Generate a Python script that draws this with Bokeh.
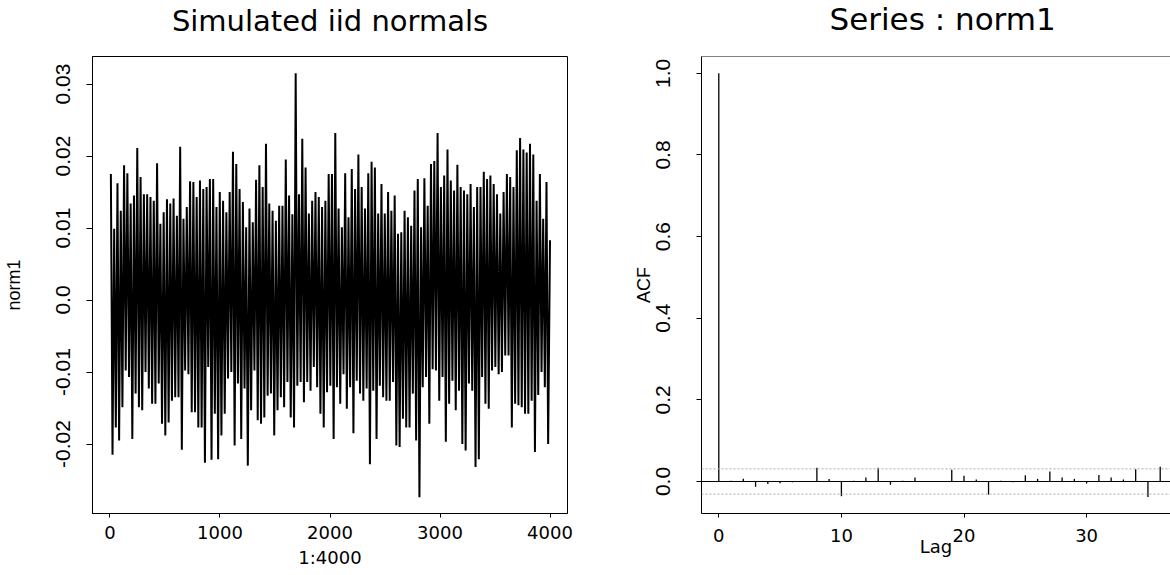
from bokeh.plotting import figure
from bokeh.layouts import row
from bokeh.models import Range1d, FixedTicker, LinearAxis, Span
from bokeh.embed import file_html
from bokeh.resources import INLINE

# ---------------- data ----------------
# left panel: norm1 (4000 iid normals), drawn as min/max per 30-observation bin
n_obs = 4000
bin_width = 30
norm1_bin_max = [
    0.0175, 0.0099, 0.0162, 0.0124, 0.0187, 0.0176, 0.0134, 0.0145, 0.0211, 0.0171,
    0.0147, 0.0147, 0.0143, 0.0138, 0.0190, 0.0106, 0.0122, 0.0140, 0.0134, 0.0141,
    0.0117, 0.0213, 0.0113, 0.0129, 0.0165, 0.0164, 0.0143, 0.0166, 0.0154, 0.0157,
    0.0168, 0.0168, 0.0129, 0.0150, 0.0138, 0.0122, 0.0150, 0.0206, 0.0189, 0.0154,
    0.0136, 0.0101, 0.0127, 0.0108, 0.0167, 0.0187, 0.0157, 0.0217, 0.0134, 0.0124,
    0.0110, 0.0131, 0.0131, 0.0195, 0.0145, 0.0119, 0.0315, 0.0147, 0.0224, 0.0184,
    0.0120, 0.0138, 0.0150, 0.0143, 0.0129, 0.0138, 0.0175, 0.0175, 0.0232, 0.0127,
    0.0101, 0.0176, 0.0115, 0.0182, 0.0154, 0.0202, 0.0157, 0.0127, 0.0176, 0.0192,
    0.0184, 0.0120, 0.0161, 0.0120, 0.0150, 0.0124, 0.0145, 0.0092, 0.0094, 0.0124,
    0.0115, 0.0103, 0.0152, 0.0168, 0.0101, 0.0169, 0.0131, 0.0189, 0.0193, 0.0232,
    0.0157, 0.0173, 0.0209, 0.0166, 0.0152, 0.0188, 0.0157, 0.0152, 0.0147, 0.0161,
    0.0129, 0.0157, 0.0157, 0.0178, 0.0168, 0.0173, 0.0161, 0.0147, 0.0120, 0.0150,
    0.0175, 0.0171, 0.0157, 0.0208, 0.0225, 0.0209, 0.0205, 0.0217, 0.0202, 0.0138,
    0.0175, 0.0113, 0.0164,
]
norm1_bin_min = [
    -0.0215, -0.0177, -0.0195, -0.0149, -0.0098, -0.0107, -0.0193, -0.0130, -0.0149, -0.0153,
    -0.0100, -0.0123, -0.0144, -0.0144, -0.0116, -0.0172, -0.0188, -0.0170, -0.0140, -0.0135,
    -0.0135, -0.0208, -0.0098, -0.0103, -0.0156, -0.0156, -0.0177, -0.0177, -0.0226, -0.0093,
    -0.0222, -0.0158, -0.0221, -0.0188, -0.0158, -0.0109, -0.0100, -0.0202, -0.0116, -0.0193,
    -0.0123, -0.0230, -0.0153, -0.0098, -0.0167, -0.0172, -0.0163, -0.0133, -0.0130, -0.0188,
    -0.0153, -0.0135, -0.0149, -0.0114, -0.0163, -0.0177, -0.0119, -0.0114, -0.0142, -0.0114,
    -0.0126, -0.0093, -0.0121, -0.0158, -0.0177, -0.0128, -0.0119, -0.0193, -0.0121, -0.0144,
    -0.0103, -0.0151, -0.0121, -0.0185, -0.0112, -0.0130, -0.0140, -0.0123, -0.0228, -0.0126,
    -0.0193, -0.0119, -0.0135, -0.0140, -0.0140, -0.0114, -0.0202, -0.0204, -0.0165, -0.0177,
    -0.0177, -0.0130, -0.0195, -0.0274, -0.0121, -0.0107, -0.0172, -0.0096, -0.0098, -0.0140,
    -0.0107, -0.0197, -0.0144, -0.0112, -0.0153, -0.0126, -0.0200, -0.0209, -0.0116, -0.0126,
    -0.0232, -0.0221, -0.0107, -0.0144, -0.0151, -0.0098, -0.0093, -0.0103, -0.0100, -0.0077,
    -0.0077, -0.0177, -0.0144, -0.0146, -0.0149, -0.0158, -0.0158, -0.0140, -0.0211, -0.0132,
    -0.0100, -0.0121, -0.0200,
]
norm1_last = 0.0083

x1_ticks = [0, 1000, 2000, 3000, 4000]
y1_ticks = [-0.02, -0.01, 0.0, 0.01, 0.02, 0.03]
y1_labels = ["-0.02", "-0.01", "0.0", "0.01", "0.02", "0.03"]

# right panel: autocorrelation of norm1
lags = list(range(0, 37))
acf = [1.0, 0.002, 0.0065, -0.013, -0.006, -0.004, -0.002, 0.001, 0.0335, 0.006,
       -0.036, 0.002, 0.0098, 0.0335, -0.008, 0.002, 0.0098, 0.001, -0.001, 0.029,
       0.014, 0.005, -0.032, 0.002, -0.002, 0.0155, 0.0065, 0.0245, 0.0098, 0.0065,
       -0.005, 0.016, 0.0098, 0.005, 0.030, -0.038, 0.036]
acf_ci = 0.031
x2_ticks = [0, 10, 20, 30]
y2_ticks = [0.0, 0.2, 0.4, 0.6, 0.8, 1.0]
y2_labels = ["0.0", "0.2", "0.4", "0.6", "0.8", "1.0"]

# series as min/max pairs per bin
sx, sy = [], []
for k, (hi, lo) in enumerate(zip(norm1_bin_max, norm1_bin_min)):
    sx += [k * bin_width + 8, k * bin_width + 23]
    sy += [hi, lo]
sx.append(n_obs)
sy.append(norm1_last)

NARROW = "Liberation Sans"
WIDE = "DejaVu Sans"


def style_axis(ax, font, size, tick_out, standoff):
    ax.axis_line_color = "black"
    ax.axis_line_width = 1
    ax.major_tick_line_color = "black"
    ax.major_tick_out = tick_out
    ax.major_tick_in = 0
    ax.minor_tick_line_color = None
    ax.major_label_text_font = font
    ax.major_label_text_font_size = size
    ax.major_label_text_color = "black"
    ax.major_label_standoff = standoff
    ax.axis_label_text_font_style = "normal"
    ax.axis_label_text_color = "black"


def style_title(t, size, standoff, align="center", offset=0):
    t.text_font = WIDE
    t.text_font_size = size
    t.text_font_style = "normal"
    t.text_color = "black"
    t.align = align
    t.offset = offset
    t.vertical_align = "top"
    t.standoff = standoff


def top_spacer(tick_at, gap, line_color):
    # an "above" axis without visible ticks or labels: draws the top edge of
    # the box and keeps the title away from the plot area
    return LinearAxis(ticker=FixedTicker(ticks=[tick_at]), axis_line_color=line_color,
                      major_tick_line_color=None, minor_tick_line_color=None,
                      major_tick_out=gap, major_tick_in=0, major_label_standoff=0,
                      major_label_text_font_size="0px",
                      major_label_overrides={tick_at: ""})


# ---------------- left panel ----------------
p1 = figure(width=620, height=575, x_range=Range1d(-159, 4159),
            y_range=Range1d(-0.02965, 0.03382), output_backend="svg",
            toolbar_location=None, min_border_left=91, min_border_right=53,
            min_border_top=56, min_border_bottom=62, title="Simulated iid normals")
p1.grid.visible = False
p1.outline_line_color = "black"
p1.outline_line_width = 1
p1.background_fill_color = "white"
p1.border_fill_color = "white"
style_title(p1.title, "29px", 0)

xb1 = p1.below[0]
style_axis(xb1, WIDE, "18px", 4, 8)
xb1.ticker = FixedTicker(ticks=x1_ticks)
xb1.axis_label = "1:4000"
xb1.axis_label_text_font = WIDE
xb1.axis_label_text_font_size = "18px"
xb1.axis_label_standoff = 5

yl1 = p1.left[0]
style_axis(yl1, NARROW, "21px", 6, 16)
yl1.ticker = FixedTicker(ticks=y1_ticks)
yl1.major_label_overrides = {t: s for t, s in zip(y1_ticks, y1_labels)}
yl1.major_label_orientation = "vertical"
yl1.axis_label = "norm1"
yl1.axis_label_text_font = NARROW
yl1.axis_label_text_font_size = "18px"
yl1.axis_label_standoff = 30

p1.add_layout(top_spacer(2000, 17, None), "above")

p1.line(sx, sy, line_color="black", line_width=2.0)

# ---------------- right panel ----------------
p2 = figure(width=550, height=575, x_range=Range1d(-1.41, 36.84),
            y_range=Range1d(-0.0784, 1.0412), output_backend="svg",
            toolbar_location=None, min_border_left=81, min_border_right=0,
            min_border_top=56, min_border_bottom=62, title="Series : norm1")
p2.grid.visible = False
p2.outline_line_color = None
p2.background_fill_color = "white"
p2.border_fill_color = "white"
style_title(p2.title, "31px", -20, align="left", offset=128)

xb2 = p2.below[0]
style_axis(xb2, WIDE, "18px", 4, 11)
xb2.ticker = FixedTicker(ticks=x2_ticks)
xb2.axis_label = "Lag"
xb2.axis_label_text_font = WIDE
xb2.axis_label_text_font_size = "18px"
xb2.axis_label_standoff = -9

yl2 = p2.left[0]
style_axis(yl2, NARROW, "21px", 5, 26)
yl2.ticker = FixedTicker(ticks=y2_ticks)
yl2.major_label_overrides = {t: s for t, s in zip(y2_ticks, y2_labels)}
yl2.major_label_orientation = "vertical"
yl2.axis_label = "ACF"
yl2.axis_label_text_font = NARROW
yl2.axis_label_text_font_size = "18px"
yl2.axis_label_standoff = 0

p2.add_layout(top_spacer(18, 28, "#808080"), "above")

p2.add_layout(Span(location=acf_ci, dimension="width", line_color="#aaaaaa",
                   line_dash="2 2", line_width=1))
p2.add_layout(Span(location=-acf_ci, dimension="width", line_color="#aaaaaa",
                   line_dash="2 2", line_width=1))
p2.add_layout(Span(location=0, dimension="width", line_color="black", line_width=1))
p2.segment(x0=lags, y0=[0] * len(lags), x1=lags, y1=acf, line_color="black", line_width=1.3)

layout = row(p1, p2)
open("out.html", "w").write(file_html(layout, INLINE))
